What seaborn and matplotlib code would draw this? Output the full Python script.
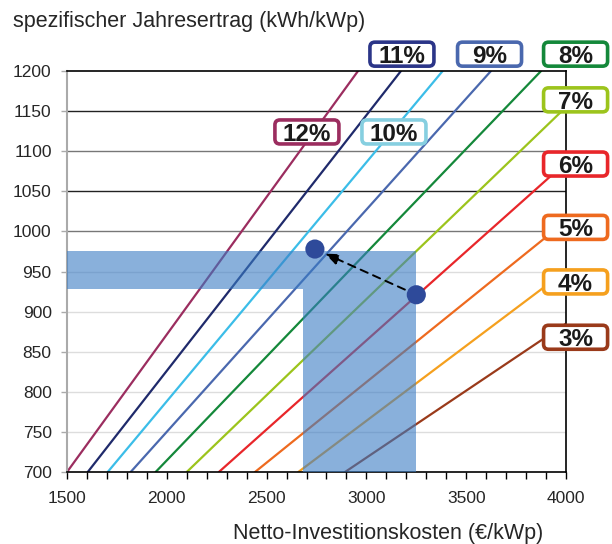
import numpy as np
import pandas as pd
import seaborn as sns
import matplotlib.pyplot as plt
from matplotlib.patches import FancyBboxPatch
from matplotlib.transforms import IdentityTransform

# Rendite-Linien: Start bei 700 kWh/kWp, Ende am Diagrammrand
rates = ["12%", "11%", "10%", "9%", "8%", "7%", "6%", "5%", "4%", "3%"]
start_cost = [1500, 1604, 1704, 1819, 1944, 2100, 2261, 2442, 2659, 2893]
start_yield = [700] * 10
end_cost = [2958, 3173, 3382, 3624, 3875, 4000, 4000, 4000, 4000, 4000]
end_yield = [1200, 1200, 1200, 1200, 1200, 1155, 1086, 1013, 951, 885]

line_colors = ["#9B2D5F", "#1F2A6B", "#3BBDE8", "#4A68AE", "#14883A",
               "#9CC41C", "#E8262A", "#EE6A1F", "#F5A01E", "#9A3A1A"]
box_edge = ["#9B2D5F", "#2B3588", "#86CFE0", "#4A68AE", "#14883A",
            "#9CC41C", "#E8262A", "#EE6A1F", "#F5A01E", "#9A3A1A"]

# Label-Positionen (Datenkoordinaten)
label_x = [2702, 3178, 3138, 3617, 4048, 4048, 4048, 4048, 4048, 4048]
label_y = [1124, 1221, 1124, 1221, 1221, 1164, 1084, 1005, 937, 868]

# Markierter Bereich und Punkte
band_low, band_high = 928, 975
cost_low, cost_high = 2680, 3250
point_cost = [3250, 2742]
point_yield = [921, 978]

grid_levels = [750, 800, 850, 900, 950, 1000, 1050, 1100, 1150]
grid_colors = ["#dddddd"] * 5 + ["#777777", "#222222", "#777777", "#222222"]

rows = []
for r, x0, y0, x1, y1 in zip(rates, start_cost, start_yield, end_cost, end_yield):
    rows.append({"rate": r, "cost": x0, "ertrag": y0})
    rows.append({"rate": r, "cost": x1, "ertrag": y1})
df = pd.DataFrame(rows)

sns.set_style("white")
plt.rcParams["font.family"] = ["Liberation Sans", "DejaVu Sans"]

fig = plt.figure(figsize=(6.12, 5.44), dpi=100)
ax = fig.add_axes([67 / 612, 1 - 472 / 544, 499 / 612, 401 / 544])

for lev, c in zip(grid_levels, grid_colors):
    ax.axhline(lev, color=c, lw=1, zorder=1)

sns.lineplot(data=df, x="cost", y="ertrag", hue="rate", hue_order=rates,
             palette=line_colors, legend=False, sort=False, lw=1.6, ax=ax, zorder=2)

# L-foermige Flaeche
poly_x = [1500, 1500, cost_high, cost_high, cost_low, cost_low]
poly_y = [band_low, band_high, band_high, 700, 700, band_low]
ax.fill(poly_x, poly_y, color="#3a7cc4", alpha=0.6, lw=0, zorder=3)

sns.scatterplot(x=point_cost, y=point_yield, s=190, color="#2E4A9A",
                edgecolor="none", ax=ax, zorder=5)
ax.annotate("", xy=(point_cost[1], point_yield[1]), xytext=(point_cost[0], point_yield[0]),
            arrowprops=dict(arrowstyle="-|>,head_length=0.8,head_width=0.32",
                            linestyle=(0, (4, 3)), color="black", lw=1.4,
                            shrinkA=9, shrinkB=8), zorder=4)

ax.set_xlim(1500, 4000)
ax.set_ylim(700, 1200)
ax.set_xticks(np.arange(1500, 4001, 500))
ax.set_xticks(np.arange(1500, 4001, 100), minor=True)
ax.set_yticks(np.arange(700, 1201, 50))
ax.tick_params(axis="x", which="both", direction="out", length=5, width=1,
               color="black", labelsize=12.5, bottom=True, pad=9)
ax.tick_params(axis="y", direction="out", length=4, width=1, color="#aaaaaa",
               labelsize=12.5, left=True, pad=7)
ax.set_xlabel("")
ax.set_ylabel("")
for s in ["top", "right", "bottom"]:
    ax.spines[s].set_color("black")
    ax.spines[s].set_linewidth(1.2)
ax.spines["left"].set_color("#aaaaaa")
ax.spines["left"].set_linewidth(1.5)

fig.text(13 / 612, 1 - 21 / 544, "spezifischer Jahresertrag (kWh/kWp)",
         ha="left", va="center", fontsize=15.5)
fig.text(388 / 612, 1 - 533 / 544, "Netto-Investitionskosten (€/kWp)",
         ha="center", va="center", fontsize=15.5)

# Beschriftungskaesten mit fester Groesse
bw, bh = 64, 24
for lab, lx, ly, ec in zip(rates, label_x, label_y, box_edge):
    cx, cy = ax.transData.transform((lx, ly))
    box = FancyBboxPatch((cx - bw / 2, cy - bh / 2), bw, bh,
                         boxstyle="round,pad=0,rounding_size=5",
                         transform=IdentityTransform(), facecolor="white",
                         edgecolor=ec, lw=2.6, zorder=6, clip_on=False)
    fig.patches.append(box)
    fig.text(cx / fig.bbox.width, cy / fig.bbox.height, lab, ha="center",
             va="center_baseline", fontsize=17.5, fontweight="bold",
             color="#1a1a1a", zorder=7)

fig.savefig("out.png", dpi=100)
